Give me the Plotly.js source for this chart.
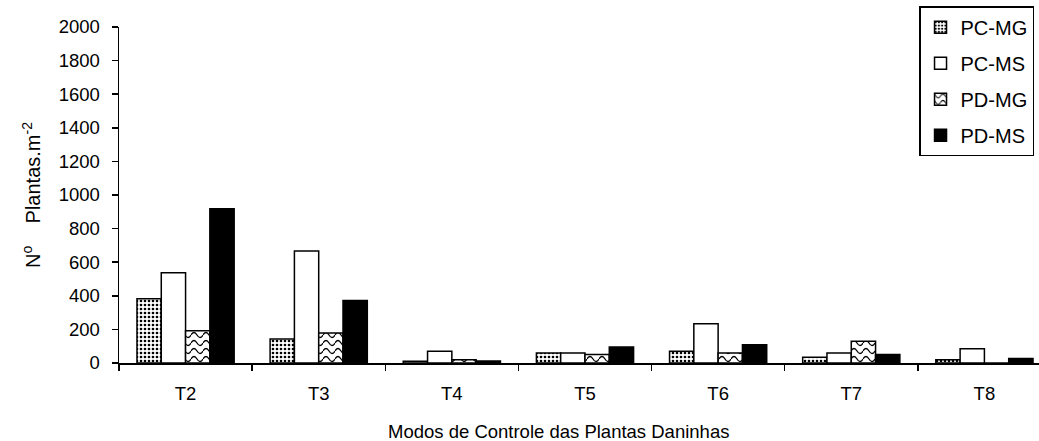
<!DOCTYPE html>
<html>
<head>
<meta charset="utf-8">
<script src="https://cdn.plot.ly/plotly-3.0.1.min.js"></script>
<style>html,body{margin:0;padding:0;background:#fff;}#chart{width:1039px;height:441px;}</style>
</head>
<body>
<div id="chart"></div>
<script>
const categories = ['T2', 'T3', 'T4', 'T5', 'T6', 'T7', 'T8'];
const seriesNames = ['PC-MG', 'PC-MS', 'PD-MG', 'PD-MS'];
const pcmg = [383, 143, 10, 60, 70, 34, 20];
const pcms = [537, 666, 70, 60, 234, 60, 85];
const pdmg = [192, 178, 20, 50, 60, 129, 0];
const pdms = [918, 372, 12, 95, 109, 50, 27];
const yTicks = [0, 200, 400, 600, 800, 1000, 1200, 1400, 1600, 1800, 2000];

const FONT = 'Liberation Sans, Arial, sans-serif';
const FS = 18.5;
const line = {color: '#000', width: 1.5};

const traces = [
  {type: 'bar', name: seriesNames[0], legendgroup: 'a', x: categories, y: pcmg,
   marker: {color: '#fff', line: line, pattern: {shape: '.', fgcolor: '#000', bgcolor: '#fff', size: 4, solidity: 0.35}}},
  {type: 'bar', name: seriesNames[1], legendgroup: 'b', x: categories, y: pcms,
   marker: {color: '#fff', line: line}},
  {type: 'bar', name: seriesNames[2], legendgroup: 'c', x: categories, y: pdmg,
   marker: {color: '#fff', line: line, pattern: {shape: 'x', fgcolor: '#000', bgcolor: '#fff', size: 9, solidity: 0.15}}},
  {type: 'bar', name: seriesNames[3], legendgroup: 'd', x: categories, y: pdms,
   marker: {color: '#000', line: line}}
];

const layout = {
  width: 1039, height: 441,
  margin: {l: 119, r: 0, t: 27, b: 78},
  paper_bgcolor: '#fff', plot_bgcolor: '#fff',
  font: {family: FONT, size: FS, color: '#000'},
  barmode: 'group', bargap: 0.27, bargroupgap: 0,
  showlegend: true,
  legend: {x: 0.9946, y: 1.062, xanchor: 'right', yanchor: 'top',
           bordercolor: '#000', borderwidth: 1.5, bgcolor: '#fff', tracegroupgap: 7,
           font: {family: FONT, size: 20, color: '#000'}, traceorder: 'grouped'},
  xaxis: {type: 'category', range: [-0.5, 6.41], showline: true, linecolor: '#000', linewidth: 1.5,
          ticks: 'outside', tickson: 'boundaries', ticklen: 6, tickwidth: 1.5, tickcolor: '#000',
          ticklabelstandoff: 13,
          showgrid: false, zeroline: false, tickfont: {family: FONT, size: FS}},
  yaxis: {range: [0, 2000], tickvals: yTicks, ticktext: yTicks.map(String),
          showline: true, linecolor: '#000', linewidth: 1.5,
          ticks: 'outside', ticklen: 6, tickwidth: 1.5, tickcolor: '#000',
          ticklabelstandoff: 8,
          showgrid: false, zeroline: false, tickfont: {family: FONT, size: FS},
          title: {text: 'N<sup>o</sup>    Plantas.m<sup>-2</sup>', font: {family: FONT, size: 20}, standoff: 12}},
  annotations: [{text: 'Modos de Controle das Plantas Daninhas', xref: 'paper', yref: 'paper',
                 x: 0.4775, y: -0.204, xanchor: 'center', yanchor: 'middle', showarrow: false,
                 font: {family: FONT, size: FS, color: '#000'}}]
};

Plotly.newPlot('chart', traces, layout, {displayModeBar: false, staticPlot: true}).then(function (gd) {
  // turn the cross-hatch pattern into a wavy hatch like the reference
  gd.querySelectorAll('pattern').forEach(function (p) {
    const path = p.querySelector('path');
    if (!path) return;
    p.setAttribute('width', 12);
    p.setAttribute('height', 8);
    const r = p.querySelector('rect');
    if (r) { r.setAttribute('width', 12); r.setAttribute('height', 8); }
    path.setAttribute('d', 'M0,4 Q3,-1 6,4 T12,4');
    path.style.strokeWidth = '1.3px';
    path.style.stroke = '#000';
    path.style.fill = 'none';
    path.style.opacity = '1';
  });
});
</script>
</body>
</html>
